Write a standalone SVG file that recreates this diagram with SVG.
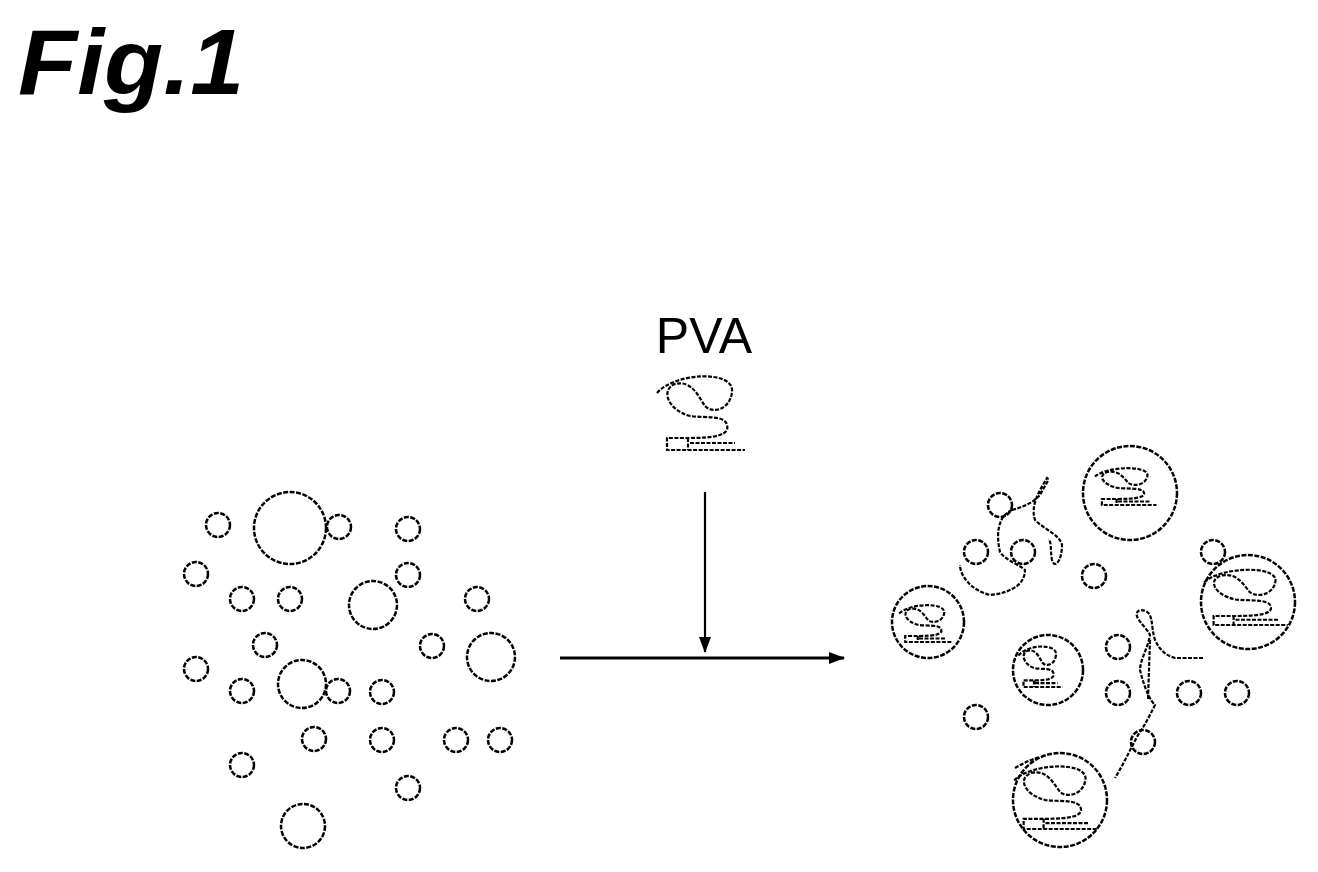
<svg xmlns="http://www.w3.org/2000/svg" width="1318" height="872" viewBox="0 0 1318 872">
<style>
.c{fill:none;stroke:#000;stroke-width:2.5;stroke-dasharray:5 1.5}
.l{fill:none;stroke:#000;stroke-width:2.2;stroke-dasharray:4 1.5;vector-effect:non-scaling-stroke}
.t{font-family:"Liberation Sans",Arial,sans-serif}
</style>
<defs>
<g id="pva">
<path class="l" d="M657,393 C675,372 735,370 732,392 C730,410 712,414 705,406 C698,396 692,380 675,384 C660,390 668,410 690,416 C705,418 725,415 727,425 C730,435 715,438 690,438 L667,438 L667,450 L745,450 M688,438 L688,450 M690,443 L735,443"/>
</g>
<marker id="ah" markerWidth="16" markerHeight="12" refX="15" refY="6" orient="auto" markerUnits="userSpaceOnUse"><path d="M0,0 L16,6 L0,12 Z" fill="#000"/></marker>
</defs>
<rect width="1318" height="872" fill="#fff"/>
<text class="t" x="18" y="94" font-size="92" font-weight="bold" font-style="italic" fill="#000" textLength="226" lengthAdjust="spacingAndGlyphs">Fig.1</text>
<g id="left">
<circle class="c" cx="290" cy="528" r="36"/><circle class="c" cx="373" cy="605" r="24"/><circle class="c" cx="491" cy="657" r="24"/><circle class="c" cx="302" cy="684" r="24"/><circle class="c" cx="303" cy="826" r="22"/>
<g class="c">
<circle cx="218" cy="525" r="12"/><circle cx="339" cy="527" r="12"/><circle cx="408" cy="529" r="12"/><circle cx="196" cy="574" r="12"/><circle cx="242" cy="599" r="12"/><circle cx="290" cy="599" r="12"/><circle cx="408" cy="575" r="12"/><circle cx="477" cy="599" r="12"/><circle cx="265" cy="645" r="12"/><circle cx="432" cy="646" r="12"/><circle cx="196" cy="669" r="12"/><circle cx="242" cy="691" r="12"/><circle cx="338" cy="691" r="12"/><circle cx="382" cy="692" r="12"/><circle cx="314" cy="739" r="12"/><circle cx="382" cy="740" r="12"/><circle cx="456" cy="740" r="12"/><circle cx="500" cy="740" r="12"/><circle cx="242" cy="765" r="12"/><circle cx="408" cy="788" r="12"/>
</g>
</g>
<g id="pva-label">
<text class="t" x="704" y="353" font-size="50" text-anchor="middle">PVA</text>
<use href="#pva"/>
</g>
<g id="connectors">
<line x1="705" y1="492" x2="705" y2="652" stroke="#000" stroke-width="2.2" marker-end="url(#ah)"/>
<line x1="560" y1="658" x2="844" y2="658" stroke="#000" stroke-width="2.8" marker-end="url(#ah)"/>
</g>
<g id="right">
<g class="c">
<circle cx="1130" cy="493" r="47"/><circle cx="928" cy="622" r="36"/><circle cx="1248" cy="602" r="47"/><circle cx="1048" cy="670" r="35"/><circle cx="1060" cy="800" r="47"/>
<circle cx="1000" cy="505" r="12"/><circle cx="976" cy="552" r="12"/><circle cx="1023" cy="552" r="12"/><circle cx="1094" cy="576" r="12"/><circle cx="1213" cy="552" r="12"/><circle cx="1118" cy="647" r="12"/><circle cx="1118" cy="693" r="12"/><circle cx="1189" cy="693" r="12"/><circle cx="1237" cy="693" r="12"/><circle cx="976" cy="717" r="12"/><circle cx="1143" cy="742" r="12"/>
</g>
<use href="#pva" transform="translate(1125,485) scale(0.7,0.5) translate(-700,-410)"/>
<use href="#pva" transform="translate(925,622) scale(0.6,0.5) translate(-700,-410)"/>
<use href="#pva" transform="translate(1245,595) scale(0.95,0.75) translate(-700,-410)"/>
<use href="#pva" transform="translate(1040,665) scale(0.5,0.55) translate(-700,-410)"/>
<use href="#pva" transform="translate(1055,795) scale(0.95,0.85) translate(-700,-410)"/>
<path class="l" d="M1012,510 C1030,505 1035,500 1040,495 C1045,485 1050,480 1047,478 C1040,490 1030,505 1035,520 C1045,530 1060,535 1062,545 C1062,560 1055,570 1052,560 C1050,550 1052,540 1048,540 M1012,510 C1000,515 995,530 1000,552 C1005,560 1020,565 1025,570 C1025,585 1010,593 990,595 C970,590 960,575 960,565"/>
<path class="l" d="M1203,658 L1175,658 C1165,655 1160,650 1155,640 C1150,625 1155,610 1140,610 C1130,615 1145,625 1150,635 C1148,648 1140,660 1140,670 C1145,690 1150,700 1155,705 C1150,715 1145,725 1138,735 C1130,750 1123,765 1115,778 M1150,640 L1148,700"/>
<path class="l" d="M1015,768 C1025,762 1035,758 1040,757"/>
</g>
</svg>
